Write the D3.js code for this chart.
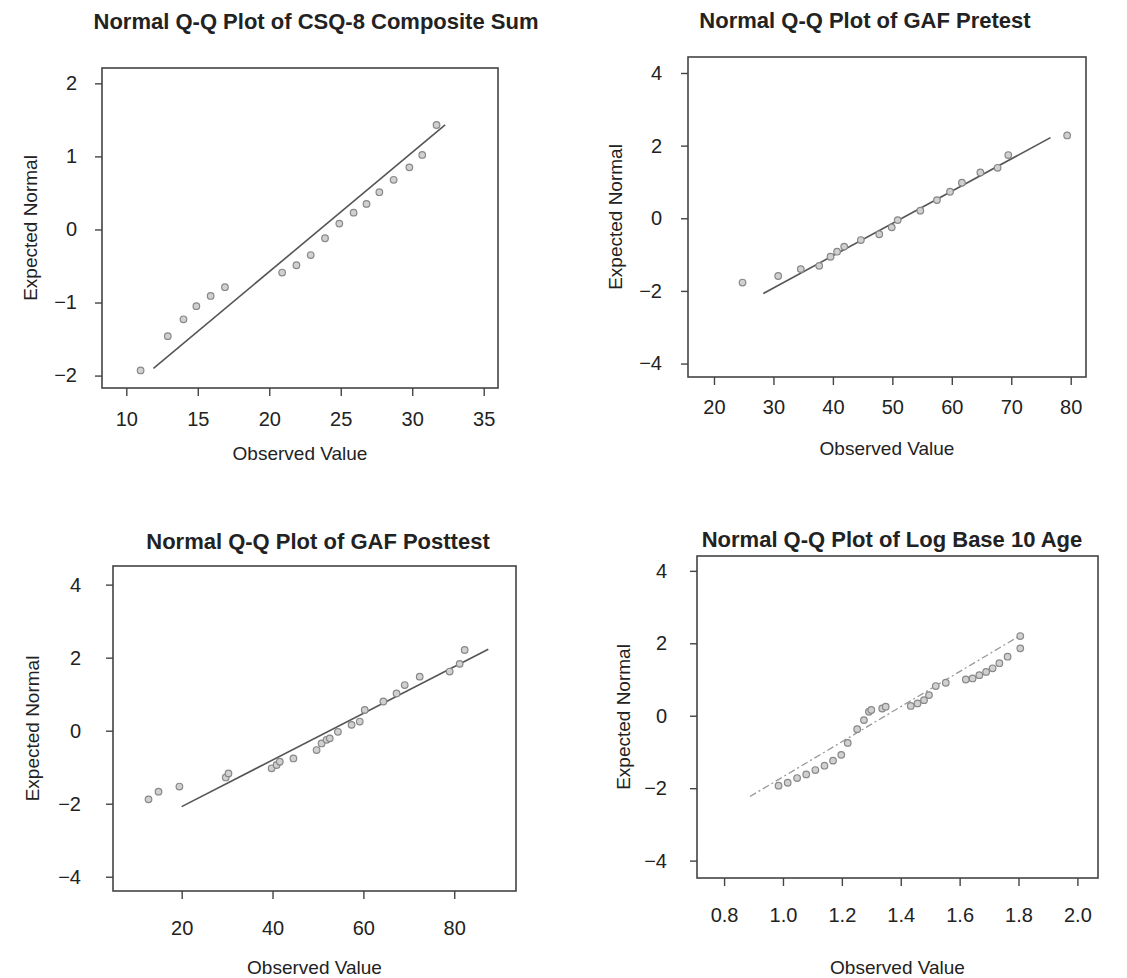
<!DOCTYPE html>
<html>
<head>
<meta charset="utf-8">
<script src="https://cdn.jsdelivr.net/npm/d3@7"></script>
<style>
  body { margin: 0; background: #fff; }
  text { font-family: "Liberation Sans", Arial, sans-serif; fill: #222; }
</style>
</head>
<body>
<svg width="1127" height="978"></svg>
<script>
// ---- data ----
const csqObserved = [11.0, 12.9, 14.0, 14.9, 15.9, 16.9, 20.9, 21.9, 22.9, 23.9, 24.9, 25.9, 26.8, 27.7, 28.7, 29.8, 30.7, 31.7];
const csqExpected = [-1.93, -1.46, -1.23, -1.05, -0.91, -0.79, -0.59, -0.49, -0.35, -0.12, 0.08, 0.23, 0.35, 0.51, 0.68, 0.85, 1.02, 1.43];
const csqLineObs = [11.9, 32.3];
const csqLineExp = [-1.90, 1.43];

const preObserved = [24.8, 30.8, 34.6, 37.7, 39.6, 40.7, 41.9, 44.7, 47.8, 49.9, 50.9, 54.7, 57.5, 59.7, 61.7, 64.8, 67.7, 69.5, 79.4];
const preExpected = [-1.77, -1.59, -1.40, -1.31, -1.06, -0.92, -0.78, -0.60, -0.44, -0.25, -0.05, 0.21, 0.50, 0.73, 0.98, 1.26, 1.39, 1.74, 2.28];
const preLineObs = [28.3, 76.6];
const preLineExp = [-2.07, 2.22];

const postObserved = [12.7, 14.9, 19.5, 29.7, 30.3, 39.8, 40.9, 41.6, 44.6, 49.7, 50.8, 51.9, 52.6, 54.4, 57.4, 59.2, 60.3, 64.4, 67.3, 69.1, 72.4, 79.0, 81.2, 82.3];
const postExpected = [-1.88, -1.67, -1.53, -1.28, -1.17, -1.03, -0.94, -0.85, -0.76, -0.53, -0.35, -0.25, -0.21, -0.03, 0.16, 0.25, 0.57, 0.80, 1.02, 1.25, 1.48, 1.62, 1.83, 2.21];
const postLineObs = [20, 87.5];
const postLineExp = [-2.08, 2.23];

const ageObserved = [0.985, 1.016, 1.048, 1.079, 1.110, 1.141, 1.170, 1.198, 1.220, 1.252, 1.275, 1.292, 1.300, 1.337, 1.349, 1.434, 1.457, 1.479, 1.496, 1.519, 1.553, 1.621, 1.644, 1.667, 1.690, 1.712, 1.735, 1.763, 1.806, 1.806];
const ageExpected = [-1.93, -1.85, -1.72, -1.62, -1.50, -1.38, -1.24, -1.08, -0.75, -0.37, -0.12, 0.11, 0.16, 0.20, 0.25, 0.27, 0.34, 0.43, 0.57, 0.82, 0.91, 1.00, 1.03, 1.12, 1.21, 1.31, 1.45, 1.63, 1.86, 2.20];
const ageLineObs = [0.888, 1.809];
const ageLineExp = [-2.23, 2.23];

const titles = [
    'Normal Q-Q Plot of CSQ-8 Composite Sum',
    'Normal Q-Q Plot of GAF Pretest',
    'Normal Q-Q Plot of GAF Posttest',
    'Normal Q-Q Plot of Log Base 10 Age'
];
const csqTicks = [10, 15, 20, 25, 30, 35];
const csqYTicks = [-2, -1, 0, 1, 2];
const gafTicks = [20, 30, 40, 50, 60, 70, 80];
const postTicks = [20, 40, 60, 80];
const ageTicks = [0.8, 1.0, 1.2, 1.4, 1.6, 1.8, 2.0];
const wideYTicks = [-4, -2, 0, 2, 4];

const svg = d3.select('svg');

const zip = (a, b) => a.map((v, i) => ({ x: v, y: b[i] }));

const panels = [
    {
        title: titles[0], pts: zip(csqObserved, csqExpected), line: zip(csqLineObs, csqLineExp),
        xDom: [8.3, 36], yDom: [-2.17, 2.21], box: [102, 68, 498, 388],
        xTicks: csqTicks, yTicks: csqYTicks, fmt: d3.format('d'),
        titleX: 316, titleY: 29, xLabOff: 38, xTitleOff: 72, yLabOff: 25, yTitleX: 30,
        dashed: false
    },
    {
        title: titles[1], pts: zip(preObserved, preExpected), line: zip(preLineObs, preLineExp),
        xDom: [15.63, 82.57], yDom: [-4.37, 4.44], box: [688, 57, 1086, 377],
        xTicks: gafTicks, yTicks: wideYTicks, fmt: d3.format('d'),
        titleX: 865, titleY: 28, xLabOff: 37, xTitleOff: 78, yLabOff: 26, yTitleX: 615,
        dashed: false
    },
    {
        title: titles[2], pts: zip(postObserved, postExpected), line: zip(postLineObs, postLineExp),
        xDom: [4.88, 93.6], yDom: [-4.39, 4.51], box: [113, 566, 516, 891],
        xTicks: postTicks, yTicks: wideYTicks, fmt: d3.format('d'),
        titleX: 318, titleY: 549, xLabOff: 44, xTitleOff: 83, yLabOff: 32, yTitleX: 32,
        dashed: false
    },
    {
        title: titles[3], pts: zip(ageObserved, ageExpected), line: zip(ageLineObs, ageLineExp),
        xDom: [0.708, 2.07], yDom: [-4.48, 4.41], box: [697, 556, 1098, 878],
        xTicks: ageTicks, yTicks: wideYTicks, fmt: d3.format('.1f'),
        titleX: 892, titleY: 547, xLabOff: 44, xTitleOff: 96, yLabOff: 30, yTitleX: 623,
        dashed: true
    }
];

const drawPanel = (p) => {
    const [x0, y0, x1, y1] = p.box;
    const x = d3.scaleLinear().domain(p.xDom).range([x0, x1]);
    const y = d3.scaleLinear().domain(p.yDom).range([y1, y0]);
    const g = svg.append('g').attr('class', 'panel');

    g.append('text')
        .attr('x', p.titleX)
        .attr('y', p.titleY)
        .attr('text-anchor', 'middle')
        .style('font-size', '22px')
        .style('font-weight', 'bold')
        .text(p.title);

    // frame
    g.append('rect')
        .attr('x', x0).attr('y', y0)
        .attr('width', x1 - x0).attr('height', y1 - y0)
        .attr('fill', 'none')
        .attr('stroke', '#444')
        .attr('stroke-width', 1.6);

    const xAxis = g.append('g')
        .attr('transform', `translate(0,${y1})`)
        .call(d3.axisBottom(x).tickValues(p.xTicks).tickFormat(p.fmt).tickSize(8).tickPadding(p.xLabOff - 22));
    const yAxis = g.append('g')
        .attr('transform', `translate(${x0},0)`)
        .call(d3.axisLeft(y).tickValues(p.yTicks).tickFormat(d => (d < 0 ? '\u2212' + Math.abs(d) : d)).tickSize(7).tickPadding(p.yLabOff - 7));
    [xAxis, yAxis].forEach(a => {
        a.select('.domain').remove();
        a.selectAll('line').attr('stroke', '#444').attr('stroke-width', 1.4);
        a.selectAll('text').style('font-size', '20px').attr('fill', '#222');
    });

    g.append('text')
        .attr('x', (x0 + x1) / 2)
        .attr('y', y1 + p.xTitleOff)
        .attr('text-anchor', 'middle')
        .style('font-size', '19px')
        .text('Observed Value');

    g.append('text')
        .attr('transform', `translate(${p.yTitleX},${(y0 + y1) / 2}) rotate(-90)`)
        .attr('text-anchor', 'middle')
        .attr('dy', '0.35em')
        .style('font-size', '19px')
        .text('Expected Normal');

    g.append('path')
        .datum(p.line)
        .attr('fill', 'none')
        .attr('stroke', p.dashed ? '#999' : '#555')
        .attr('stroke-width', p.dashed ? 1.3 : 1.6)
        .attr('stroke-dasharray', p.dashed ? '7,3,2,3' : null)
        .attr('d', d3.line().x(d => x(d.x)).y(d => y(d.y)));

    g.append('g')
        .selectAll('circle')
        .data(p.pts)
        .enter()
        .append('circle')
        .attr('cx', d => x(d.x))
        .attr('cy', d => y(d.y))
        .attr('r', 3.3)
        .attr('fill', '#d0d0d0')
        .attr('stroke', '#888')
        .attr('stroke-width', 1.2);
};

panels.forEach(drawPanel);
</script>
</body>
</html>
